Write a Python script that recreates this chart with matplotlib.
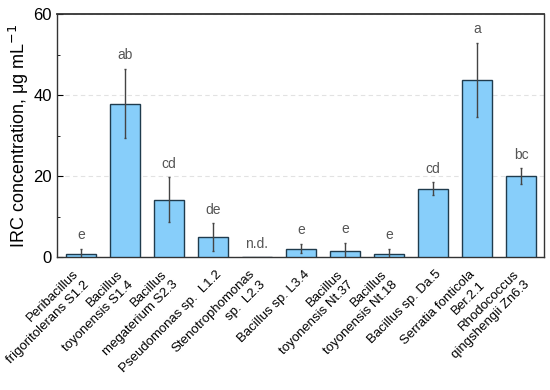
import matplotlib.pyplot as plt
import matplotlib.transforms as mtransforms
import numpy as np
from matplotlib.ticker import MultipleLocator

plt.rcParams["font.family"] = ["Liberation Sans", "DejaVu Sans"]

strains = [
    "Peribacillus\nfrigoritolerans S1.2",
    "Bacillus\ntoyonensis S1.4",
    "Bacillus\nmegaterium S2.3",
    "Pseudomonas sp.  L1.2",
    "Stenotrophomonas\nsp.  L2.3",
    "Bacillus sp. L3.4",
    "Bacillus\ntoyonensis Nt.37",
    "Bacillus\ntoyonensis Nt.18",
    "Bacillus sp. Da.5",
    "Serratia fonticola\nBer.2.1",
    "Rhodococcus\nqingshengii Zn6.3",
]
irc = [0.8, 37.9, 14.2, 4.9, 0.0, 2.1, 1.5, 0.8, 16.8, 43.7, 20.0]
irc_sd = [1.3, 8.6, 5.5, 3.4, 0.0, 1.2, 2.0, 1.3, 1.6, 9.2, 1.9]
letters = ["e", "ab", "cd", "de", "n.d.", "e", "e", "e", "cd", "a", "bc"]

fig = plt.figure(figsize=(5.5, 3.9), dpi=100)
ax = fig.add_axes([0.1036, 0.341, 0.8854, 0.623])

x = np.arange(len(strains))
ax.bar(x, irc, width=0.68, color="#87cefa", edgecolor="#1f3b4d", linewidth=1.0, zorder=3)
has_err = [s > 0 for s in irc_sd]
ax.errorbar(x[has_err], np.array(irc)[has_err], yerr=np.array(irc_sd)[has_err],
            fmt="none", ecolor="#444444", elinewidth=1.0, capsize=0.8, zorder=4)

for xi, v, s, lab in zip(x, irc, irc_sd, letters):
    ax.text(xi, v + s + 1.6, lab, ha="center", va="bottom", fontsize=10, color="#555555")

ax.set_xlim(-0.54, len(strains) - 0.48)
ax.set_ylim(0, 60)
ax.yaxis.set_major_locator(MultipleLocator(20))
ax.yaxis.set_minor_locator(MultipleLocator(10))
ax.tick_params(axis="y", which="major", direction="in", length=4, labelsize=12)
ax.tick_params(axis="y", which="minor", direction="in", length=2)
ax.tick_params(axis="x", length=0, pad=8)
ax.set_xticks(x)
ax.set_xticklabels(strains, rotation=45, ha="right", fontsize=9.5,
                   multialignment="right", linespacing=1.3)
shift = mtransforms.ScaledTranslation(11 / 100, 0, fig.dpi_scale_trans)
for lbl in ax.get_xticklabels():
    lbl.set_transform(lbl.get_transform() + shift)
ax.set_ylabel("IRC concentration, μg mL$^{-1}$", fontsize=13, labelpad=2)
ax.grid(axis="y", linestyle=(0, (4, 3)), color="#e2e2e2", linewidth=0.8, zorder=0)
for sp in ax.spines.values():
    sp.set_color("#333333")
    sp.set_linewidth(1.0)
ax.spines["top"].set_linewidth(1.3)

fig.savefig("out.png", dpi=100)
